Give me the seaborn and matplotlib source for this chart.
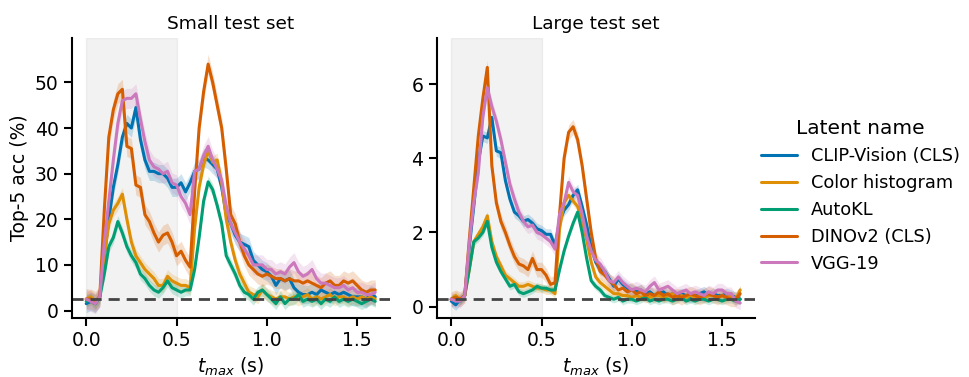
import numpy as np
import pandas as pd
import matplotlib
matplotlib.use("Agg")
import matplotlib.pyplot as plt
import seaborn as sns

# time grid (s)
t = np.round(np.arange(0, 1.6001, 0.025), 3)

names = ["CLIP-Vision (CLS)", "Color histogram", "AutoKL", "DINOv2 (CLS)", "VGG-19"]

# ---- small test set (top-5 acc, %)
clip_s = [1.5, 2.0, 1.5, 3.0, 12, 20, 27, 32, 38, 41,
          40, 44.5, 37.5, 33, 30.5, 30.5, 30, 30, 29, 27,
          27, 28, 26, 28, 30.5, 31, 33.5, 33, 32, 31,
          27, 21, 19, 16.5, 15, 14.5, 14, 11, 10, 9,
          8.5, 7.5, 5.5, 7, 6.5, 7, 5, 4, 3.5, 3.5,
          4, 3.5, 4.5, 4, 3.5, 4, 3.5, 4, 3.5, 3,
          3, 3, 2.5, 3.5, 3]
color_s = [2.5, 3.0, 2.0, 3.0, 12, 19, 22, 23.5, 25.5, 20,
           15, 12, 10.5, 9, 8, 7, 5.5, 5.5, 7.5, 6.5,
           6, 5.5, 5.5, 5, 18, 27, 32, 35, 32.5, 33,
           28, 20, 15, 11, 8, 6, 4, 3.5, 3, 4.5,
           3.5, 3, 2.5, 3, 3, 2.5, 3, 2.5, 3, 3.5,
           2.5, 3, 2.5, 3, 3.5, 2.5, 3, 3, 2.5, 3,
           2.5, 3, 2.5, 3, 2.5]
autokl_s = [2.0, 2.5, 1.5, 3.0, 8, 14, 16, 19.5, 17, 14,
            12, 10.5, 8, 7, 5.5, 4.5, 4, 5, 6.5, 5,
            4.5, 4, 4.5, 4.5, 9, 16, 24, 28.2, 26.5, 23,
            19, 12, 10, 8, 5.5, 4, 3.5, 2.5, 4, 4.5,
            3.5, 2.5, 1.5, 3, 1.5, 2.5, 2.5, 3.5, 2, 2.5,
            2, 2.5, 1.5, 2.5, 2, 3, 2, 2.5, 2, 2.5,
            2, 1.5, 2, 2.5, 2]
dino_s = [2.5, 2.5, 2.0, 3.0, 22, 38, 44, 47.5, 48.5, 36,
          35.5, 27.5, 27, 21, 19.5, 17, 15, 16.5, 17, 15,
          12, 13, 11, 9.5, 26, 40, 48, 54, 50, 45,
          40, 31, 21, 19, 15, 12, 10, 9, 8, 7.5,
          8, 7.5, 7, 7, 6.5, 7, 6.5, 6.5, 6, 6.5,
          6, 5.5, 5, 6, 6.5, 5.5, 5.5, 6.5, 6, 6.5,
          5.5, 4.5, 4, 4.5, 4.5]
vgg_s = [2.5, 2.0, 1.5, 3.0, 15, 24, 33, 41, 46, 46.5,
         46.5, 47.5, 42, 37, 33, 31.5, 31, 30, 30.5, 28,
         27.5, 25, 23.5, 21, 30.5, 31, 34, 36, 33, 31,
         28.5, 23, 19, 17, 15, 13.5, 12, 10, 10, 10,
         9, 9, 8, 8.5, 8, 9.5, 10.5, 8.5, 7.5, 8,
         9, 7, 6, 6, 5.5, 5, 5, 5.5, 4.5, 5,
         4, 4, 3.5, 3.5, 4]

# ---- large test set (top-5 acc, %)
clip_l = [0.15, 0.05, 0.2, 0.3, 1.6, 2.7, 3.9, 4.6, 4.55, 5.1,
          4.2, 4.15, 3.4, 2.9, 2.55, 2.45, 2.3, 2.35, 2.25, 2.1,
          2.05, 1.95, 1.95, 1.65, 2.3, 2.6, 2.75, 3.0, 3.15, 2.7,
          2.2, 1.6, 1.2, 1.0, 0.95, 0.75, 0.55, 0.75, 0.6, 0.5,
          0.45, 0.4, 0.45, 0.35, 0.4, 0.3, 0.35, 0.4, 0.3, 0.35,
          0.3, 0.35, 0.3, 0.25, 0.3, 0.35, 0.4, 0.3, 0.35, 0.3,
          0.3, 0.35, 0.3, 0.25, 0.2]
color_l = [0.2, 0.3, 0.2, 0.3, 1.0, 1.75, 1.95, 2.15, 2.45, 1.75,
           1.35, 1.1, 0.85, 0.75, 0.65, 0.55, 0.55, 0.6, 0.55, 0.5,
           0.5, 0.45, 0.45, 0.35, 2.1, 2.8, 3.0, 2.85, 2.7, 2.3,
           1.8, 1.2, 0.8, 0.65, 0.55, 0.45, 0.35, 0.35, 0.3, 0.3,
           0.25, 0.3, 0.25, 0.3, 0.25, 0.3, 0.3, 0.25, 0.3, 0.35,
           0.25, 0.3, 0.25, 0.3, 0.25, 0.3, 0.25, 0.3, 0.3, 0.25,
           0.3, 0.25, 0.3, 0.2, 0.45]
autokl_l = [0.2, 0.25, 0.15, 0.3, 1.0, 1.75, 1.85, 2.0, 2.3, 1.6,
            1.2, 0.95, 0.75, 0.55, 0.6, 0.4, 0.35, 0.4, 0.45, 0.55,
            0.5, 0.5, 0.45, 0.45, 1.0, 1.5, 1.9, 2.25, 2.55, 2.0,
            1.3, 0.7, 0.55, 0.45, 0.3, 0.25, 0.2, 0.25, 0.15, 0.2,
            0.2, 0.15, 0.2, 0.25, 0.15, 0.2, 0.15, 0.2, 0.2, 0.15,
            0.2, 0.25, 0.15, 0.2, 0.15, 0.2, 0.2, 0.15, 0.2, 0.2,
            0.15, 0.2, 0.2, 0.15, 0.2]
dino_l = [0.2, 0.25, 0.2, 0.3, 1.8, 3.2, 4.6, 5.6, 6.45, 3.8,
          2.8, 2.3, 2.0, 1.65, 1.35, 1.15, 1.1, 1.0, 1.3, 1.0,
          1.0, 0.85, 0.6, 0.65, 2.5, 4.0, 4.7, 4.85, 4.5, 3.8,
          2.9, 2.0, 1.3, 0.95, 0.85, 0.7, 0.6, 0.45, 0.5, 0.4,
          0.45, 0.35, 0.4, 0.3, 0.35, 0.3, 0.4, 0.3, 0.35, 0.25,
          0.3, 0.25, 0.3, 0.35, 0.3, 0.25, 0.3, 0.35, 0.3, 0.25,
          0.3, 0.25, 0.2, 0.2, 0.35]
vgg_l = [0.2, 0.15, 0.15, 0.3, 1.7, 2.8, 3.6, 5.1, 5.9, 5.4,
         5.0, 4.5, 3.9, 3.3, 2.9, 2.55, 2.3, 2.15, 2.2, 2.0,
         1.95, 1.85, 1.75, 1.55, 2.5, 2.8, 3.35, 3.1, 3.0, 2.5,
         1.9, 1.5, 1.25, 1.15, 0.95, 0.7, 0.65, 0.8, 0.65, 0.55,
         0.45, 0.5, 0.45, 0.4, 0.55, 0.65, 0.45, 0.5, 0.55, 0.45,
         0.35, 0.4, 0.45, 0.35, 0.4, 0.35, 0.3, 0.4, 0.35, 0.45,
         0.45, 0.35, 0.35, 0.15, 0.1]

# approximate half-width of the error bands, per latent
sem_s = [2.0, 1.5, 1.3, 2.2, 2.2]
sem_l = [0.15, 0.12, 0.1, 0.2, 0.18]

chance_s = 2.5
chance_l = 0.208

panels = [
    ("Small test set", [clip_s, color_s, autokl_s, dino_s, vgg_s], sem_s, chance_s, (-1.6, 59.8)),
    ("Large test set", [clip_l, color_l, autokl_l, dino_l, vgg_l], sem_l, chance_l, (-0.3, 7.25)),
]

sns.set_style("ticks")
plt.rcParams['font.family'] = ['DejaVu Sans']
plt.rcParams['text.color'] = 'black'
plt.rcParams['axes.labelcolor'] = 'black'
plt.rcParams['xtick.color'] = 'black'
plt.rcParams['ytick.color'] = 'black'
plt.rcParams['axes.edgecolor'] = 'black'
palette = sns.color_palette("colorblind")[:5]

fig, axes = plt.subplots(1, 2, figsize=(9.7, 3.77), dpi=100)
fig.subplots_adjust(left=0.074, right=0.778, bottom=0.157, top=0.9, wspace=0.148)

for i, (title, series, sems, chance, ylim) in enumerate(panels):
    ax = axes[i]
    df = pd.DataFrame({
        "t": np.tile(t, len(names)),
        "acc": np.concatenate(series),
        "Latent name": np.repeat(names, len(t)),
    })
    ax.axvspan(0, 0.5, color="grey", alpha=0.1, lw=1)
    sns.lineplot(data=df, x="t", y="acc", hue="Latent name", palette=palette,
                 errorbar=None, lw=2.2, ax=ax, legend=(i == 1))
    for vals, s, c in zip(series, sems, palette):
        vals = np.array(vals)
        ax.fill_between(t, vals - s, vals + s, color=c, alpha=0.2, lw=0)
    ax.axhline(chance, color="#444444", ls="--", lw=2, dashes=(4, 2.5))
    ax.set_ylim(*ylim)
    ax.set_xticks([0, 0.5, 1.0, 1.5])
    ax.set_title(title, fontsize=13.3)
    ax.set_xlabel("$t_{max}$ (s)", fontsize=13.5)
    ax.set_ylabel("Top-5 acc (%)" if i == 0 else "", fontsize=13.5)
    ax.tick_params(labelsize=13.5, width=1.5, length=6)
    for sp in ["left", "bottom"]:
        ax.spines[sp].set_linewidth(1.5)
    sns.despine(ax=ax)

axes[1].set_yticks([0, 2, 4, 6])
sns.move_legend(axes[1], "center left", bbox_to_anchor=(0.97, 0.435), frameon=False,
                title="Latent name", fontsize=12.8, title_fontsize=14.5)

plt.savefig("out.png")
plt.close()
